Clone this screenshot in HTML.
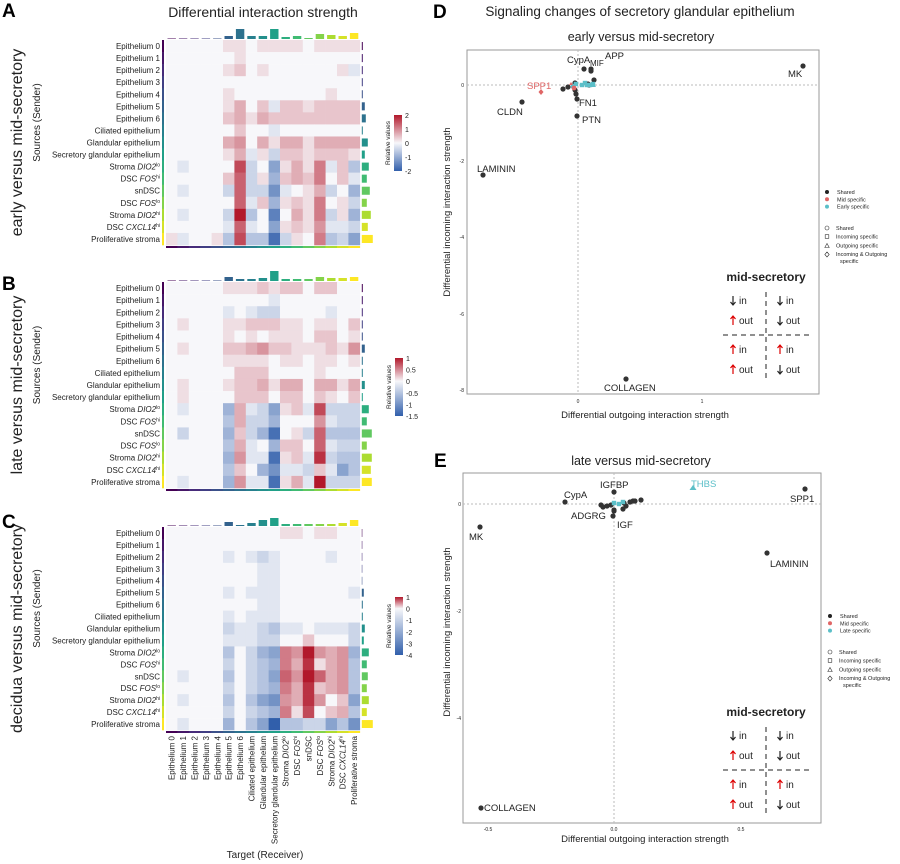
<!DOCTYPE html>
<html><head><meta charset="utf-8"><style>
html,body{margin:0;padding:0;background:#fff}
svg{display:block;font-family:"Liberation Sans",Arial,sans-serif}
</style></head><body>
<svg id="s" width="900" height="864" viewBox="0 0 900 864" xmlns="http://www.w3.org/2000/svg"></svg>
<script>
const S=document.getElementById('s');let h='';
const vir=['#440154','#482878','#3e4989','#31688e','#26828e','#1f9e89','#35b779','#6ece58','#b5de2b','#fde725'];
function hex(c){return [parseInt(c.substr(1,2),16),parseInt(c.substr(3,2),16),parseInt(c.substr(5,2),16)]}
function virC(t){let p=t*9,i=Math.min(8,Math.floor(p)),f=p-i;let a=hex(vir[i]),b=hex(vir[i+1]);return `rgb(${a.map((v,k)=>Math.round(v+(b[k]-v)*f)).join(',')})`}
function heat(v){let t=Math.min(1,Math.abs(v)/9);let c=v>=0?[178,24,43]:[49,95,171];let w=[247,247,250];return `rgb(${w.map((x,k)=>Math.round(x+(c[k]-x)*t)).join(',')})`}
const rows=[['Epithelium 0'],['Epithelium 1'],['Epithelium 2'],['Epithelium 3'],['Epithelium 4'],['Epithelium 5'],['Epithelium 6'],['Ciliated epithelium'],['Glandular epithelium'],['Secretory glandular epithelium'],['Stroma ','DIO2','lo'],['DSC ','FOS','hi'],['snDSC'],['DSC ','FOS','lo'],['Stroma ','DIO2','hi'],['DSC ','CXCL14','hi'],['Proliferative stroma']];
function lab(r){if(r.length==1)return r[0];return `${r[0]}<tspan font-style="italic">${r[1]}</tspan><tspan font-size="5" dy="-3">${r[2]}</tspan>`}
const A=[[0,0,0,0,0,1,1,0,1,1,1,1,0,1,1,1,1],[0,0,0,0,0,0,1,0,0,0,0,0,0,0,0,0,0],[0,0,0,0,0,1,2,0,1,0,0,0,0,0,0,1,-1],[0,0,0,0,0,0,0,0,0,0,0,0,0,0,0,0,0],[0,0,0,0,0,1,0,0,0,0,0,0,0,0,1,0,0],[0,0,0,0,0,1,3,0,2,-1,2,2,1,2,2,2,2],[0,0,0,0,0,2,3,1,3,2,2,2,2,2,2,2,2],[0,0,0,0,0,0,2,0,0,-1,0,0,0,0,0,0,0],[0,0,0,0,0,3,4,0,3,1,3,3,1,3,3,3,3],[0,0,0,0,0,1,3,-1,1,-2,2,2,1,2,2,2,1],[0,-1,0,0,0,0,7,-2,0,-5,1,3,1,5,-1,2,-3],[0,0,0,0,0,2,6,-2,1,-4,2,3,2,5,0,2,-1],[0,-1,0,0,0,-2,6,-2,-2,-6,-1,0,1,3,-2,0,-4],[0,0,0,0,0,0,6,-1,2,-4,1,2,1,5,0,1,-2],[0,-1,0,0,0,-2,9,-3,0,-7,0,3,1,5,-2,1,-4],[0,0,0,0,0,-1,6,-1,0,-5,1,2,1,4,-1,-1,-2],[1,-1,0,0,1,-3,7,-3,-3,-8,-2,1,0,5,-3,-2,-5]];
const B=[[0,0,0,0,0,1,1,1,2,1,2,2,0,2,2,0,0],[0,0,0,0,0,0,0,0,0,-1,0,0,0,0,0,0,0],[0,0,0,0,0,-1,0,-1,-2,-2,0,0,0,0,-1,0,0],[0,1,0,0,0,1,1,2,2,2,1,1,0,1,1,0,2],[0,0,0,0,0,1,0,1,0,1,1,1,0,2,2,0,1],[0,1,0,0,0,2,2,3,4,2,2,1,1,1,2,1,4],[0,0,0,0,0,1,1,1,1,0,1,1,0,1,1,0,1],[0,0,0,0,0,0,2,2,2,0,0,0,0,1,0,0,0],[0,1,0,0,0,1,2,2,3,1,3,3,0,3,3,1,3],[0,1,0,0,0,0,2,2,2,0,2,2,0,2,1,0,2],[0,-1,0,0,0,-4,3,-1,-2,-5,1,2,-1,7,-2,-2,-2],[0,0,0,0,0,-3,3,-2,-2,-4,0,0,0,4,-1,-2,-2],[0,-2,0,0,0,-4,2,-2,-4,-8,0,1,-2,6,-3,-3,-3],[0,0,0,0,0,-3,3,-1,0,-4,2,2,0,6,-1,-2,-2],[0,0,0,0,0,-4,4,-1,-1,-8,1,2,-1,8,-2,-3,-3],[0,0,0,0,0,-3,2,0,-4,-6,-1,-1,-2,2,-1,-5,-3],[0,-1,0,0,0,-4,4,-1,-1,-8,1,3,-1,9,-2,-2,-2]];
const C=[[0,0,0,0,0,0,0,0,0,0,1,1,0,1,1,0,0],[0,0,0,0,0,0,0,0,0,0,0,0,0,0,0,0,0],[0,0,0,0,0,-1,0,-1,-2,-1,0,0,0,0,-1,0,0],[0,0,0,0,0,0,0,0,-1,-1,0,0,0,0,0,0,0],[0,0,0,0,0,0,0,0,-1,-1,0,0,0,0,0,0,0],[0,0,0,0,0,-1,0,-1,-1,-1,0,0,0,0,0,0,-1],[0,0,0,0,0,0,0,0,-1,-1,0,0,0,0,0,0,0],[0,0,0,0,0,-1,0,-1,-1,-1,0,0,0,0,0,0,0],[0,0,0,0,0,-2,-1,-1,-2,-3,-1,-1,0,-1,-1,-1,-2],[0,0,0,0,0,-1,-1,-1,-2,-2,0,0,2,0,0,0,-2],[0,0,0,0,0,-3,0,-2,-4,-5,5,4,9,4,3,4,-4],[0,0,0,0,0,-2,0,-2,-3,-4,5,3,8,1,3,4,-3],[0,-1,0,0,0,-3,0,-2,-3,-5,6,4,9,6,3,4,-3],[0,0,0,0,0,-2,0,-2,-3,-4,5,3,8,2,3,4,-3],[0,-1,0,0,0,-3,0,-3,-5,-6,4,3,8,4,0,2,-5],[0,0,0,0,0,-2,0,-2,-3,-4,5,1,7,0,2,3,-3],[0,-1,0,0,0,-4,0,-3,-5,-9,-3,-3,-2,-2,-5,-3,-6]];
const topA=[.5,.5,.5,.5,.5,3,10,3,3,10,2,3,1,5,4,3,6],rA=[1,1,1,1,1,3,4,1,6,3,7,5,8,5,9,6,11];
const topB=[.5,.5,.5,.5,.5,4,2,2,3,10,2,2,2,4,3,3,4],rB=[1,1,1,1,1,3,1,1,3,1,7,5,10,5,10,9,10];
const topC=[.5,.5,.5,.5,.5,4,1,3,6,8,2,2,2,2,2,3,6],rC=[0.5,0.5,0.5,0.5,0.5,2,1,1,3,2,7,5,6,5,7,5,11];
const x0=166,cw=11.4;
function panel(M,y0,y1,top,rb,title,cb,cbLabels){
 const rh=(y1-y0)/17;
 for(let r=0;r<17;r++)for(let c=0;c<17;c++)h+=`<rect x="${x0+c*cw}" y="${y0+r*rh}" width="${cw+.3}" height="${rh+.3}" fill="${heat(M[r][c])}"/>`;
 for(let c=0;c<17;c++){let t=top[c];h+=`<rect x="${x0+c*cw+1.5}" y="${y0-1-t}" width="${cw-3}" height="${t}" fill="${virC(c/16)}"/>`}
 for(let r=0;r<17;r++){let t=rb[r];h+=`<rect x="${x0+17*cw+2}" y="${y0+r*rh+2}" width="${t}" height="${rh-4}" fill="${virC(r/16)}"/>`;
  h+=`<rect x="162" y="${y0+r*rh}" width="2" height="${rh+.3}" fill="${virC(r/16)}"/>`;
  h+=`<rect x="${x0+r*cw}" y="${y1+1}" width="${cw+.3}" height="2" fill="${virC(r/16)}"/>`;
  h+=`<text x="160" y="${y0+r*rh+rh/2+3}" font-size="8" text-anchor="end" fill="#222">${lab(rows[r])}</text>`}
 h+=`<text x="22" y="${(y0+y1)/2}" font-size="16" text-anchor="middle" transform="rotate(-90 22 ${(y0+y1)/2})" fill="#222">${title}</text>`;
 h+=`<text x="40" y="${(y0+y1)/2-20}" font-size="10" text-anchor="middle" transform="rotate(-90 40 ${(y0+y1)/2-20})" fill="#222">Sources (Sender)</text>`;
 const [cx,cy0,cy1,neg]=cb;
 h+=`<defs><linearGradient id="g${y0}" x1="0" y1="0" x2="0" y2="1"><stop offset="0" stop-color="#b2182b"/><stop offset="${neg}" stop-color="#f7f7fa"/><stop offset="1" stop-color="#315fab"/></linearGradient></defs><rect x="${cx}" y="${cy0}" width="8" height="${cy1-cy0}" fill="url(#g${y0})"/>`;
 cbLabels.forEach((l,i)=>{h+=`<text x="${cx+11}" y="${cy0+3+i*(cy1-cy0)/(cbLabels.length-1)}" font-size="7" fill="#222">${l}</text>`});
 h+=`<text x="${cx-4}" y="${(cy0+cy1)/2}" font-size="6.5" text-anchor="middle" transform="rotate(-90 ${cx-4} ${(cy0+cy1)/2})" fill="#222">Relative values</text>`;
}
h+=`<text x="2" y="17" font-size="19" font-weight="bold">A</text><text x="2" y="290" font-size="19" font-weight="bold">B</text><text x="2" y="528" font-size="19" font-weight="bold">C</text>`;
h+=`<text x="263" y="17" font-size="14" text-anchor="middle" fill="#222">Differential interaction strength</text>`;
panel(A,40,245,topA,rA,'early versus mid-secretory',[394,115,171,.5],['2','1','0','-1','-2']);
panel(B,282,488,topB,rB,'late versus mid-secretory',[395,358,416,.4],['1','0.5','0','-0.5','-1','-1.5']);
panel(C,527,730,topC,rC,'decidua versus mid-secretory',[395,597,655,.2],['1','0','-1','-2','-3','-4']);
const cn=['Epithelium 0','Epithelium 1','Epithelium 2','Epithelium 3','Epithelium 4','Epithelium 5','Epithelium 6','Ciliated epithelium','Glandular epithelium','Secretory glandular epithelium',['Stroma ','DIO2','lo'],['DSC ','FOS','hi'],'snDSC',['DSC ','FOS','lo'],['Stroma ','DIO2','hi'],['DSC ','CXCL14','hi'],'Proliferative stroma'];
cn.forEach((n,c)=>{let x=x0+c*cw+cw/2+3;let t=Array.isArray(n)?lab(n):n;h+=`<text x="${x}" y="736" font-size="8" text-anchor="end" transform="rotate(-90 ${x} 736)" fill="#222">${t}</text>`});
h+=`<text x="265" y="858" font-size="10" text-anchor="middle" fill="#222">Target (Receiver)</text>`;

function dot(x,y,c){h+=`<circle cx="${x}" cy="${y}" r="2.6" fill="${c||'#333'}"/>`}
function t(x,y,s,o){o=o||{};h+=`<text x="${x}" y="${y}" font-size="${o.fs||9.5}" fill="${o.c||'#222'}" text-anchor="${o.a||'start'}">${s}</text>`}
function inset(y){
 h+=`<text x="766" y="${y}" font-size="12" font-weight="bold" text-anchor="middle" fill="#222">mid-secretory</text>`;
 const dn=(x,yy)=>`<path d="M${x} ${yy-9}V${yy}M${x-2.5} ${yy-3}L${x} ${yy}L${x+2.5} ${yy-3}" stroke="#222" fill="none" stroke-width="1.2"/>`;
 const up=(x,yy)=>`<path d="M${x} ${yy}V${yy-9}M${x-2.5} ${yy-6}L${x} ${yy-9}L${x+2.5} ${yy-6}" stroke="#d00" fill="none" stroke-width="1.2"/>`;
 const rowsI=[[dn,'in',dn,'in'],[up,'out',dn,'out'],[up,'in',up,'in'],[up,'out',dn,'out']];
 const ys=[y+23,y+43,y+72,y+92];
 rowsI.forEach((r,i)=>{h+=r[0](733,ys[i]+1)+r[2](780,ys[i]+1);t(739,ys[i],r[1],{fs:10});t(786,ys[i],r[3],{fs:10})});
 h+=`<line x1="723" y1="${y+54}" x2="810" y2="${y+54}" stroke="#222" stroke-dasharray="5,4"/><line x1="766" y1="${y+11}" x2="766" y2="${y+97}" stroke="#222" stroke-dasharray="5,4"/>`;
}
function legend(x,y,third){
 const L=[['#222','Shared'],['#e06666','Mid specific'],['#5bbfc8',third]];
 L.forEach((l,i)=>{h+=`<circle cx="${x}" cy="${y+i*7.3}" r="2" fill="${l[0]}"/>`;t(x+10,y+2+i*7.3,l[1],{fs:5.5})});
 let y2=y+36;
 h+=`<circle cx="${x}" cy="${y2}" r="2" fill="none" stroke="#333" stroke-width=".6"/><rect x="${x-1.8}" y="${y2+6.7}" width="3.6" height="3.6" fill="none" stroke="#333" stroke-width=".6"/><path d="M${x-2.2} ${y2+19.5}L${x} ${y2+15.5}L${x+2.2} ${y2+19.5}Z" fill="none" stroke="#333" stroke-width=".6"/><path d="M${x} ${y2+24}L${x+2.2} ${y2+26.5}L${x} ${y2+29}L${x-2.2} ${y2+26.5}Z" fill="none" stroke="#333" stroke-width=".6"/>`;
 ['Shared','Incoming specific','Outgoing specific','Incoming &amp; Outgoing'].forEach((s,i)=>t(x+9,y2+2+i*8.7,s,{fs:5.5}));t(x+13,y2+35,'specific',{fs:5.5});
}
h+=`<text x="433" y="18" font-size="19" font-weight="bold">D</text>`;
t(640,16,'Signaling changes of secretory glandular epithelium',{fs:13.5,a:'middle'});
t(641,41,'early versus mid-secretory',{fs:12.5,a:'middle'});
h+=`<rect x="467" y="50" width="352" height="344" fill="none" stroke="#999" stroke-width="1"/>`;
h+=`<line x1="467" y1="85" x2="819" y2="85" stroke="#bbb" stroke-dasharray="2,2"/><line x1="578" y1="50" x2="578" y2="394" stroke="#bbb" stroke-dasharray="2,2"/>`;
[[0,85],[-2,161],[-4,237],[-6,314],[-8,390]].forEach(a=>t(464,a[1]+2,a[0],{fs:5,a:'end'}));
[[0,578],[1,702]].forEach(a=>t(a[1],403,a[0],{fs:5,a:'middle'}));
t(645,418,'Differential outgoing interaction strength',{fs:9.5,a:'middle'});
h+=`<text x="450" y="212" font-size="9.5" text-anchor="middle" transform="rotate(-90 450 212)" fill="#222">Differential incoming interaction strength</text>`;
[[803,66],[584,69],[591,69],[591,71],[594,80],[522,102],[483,175],[577,116],[626,379],[577,99],[563,89],[568,87],[575,83],[575,90],[576,94],[589,85],[588,84]].forEach(p=>dot(...p));
[[573,86],[576,84],[582,85],[585,83],[587,85],[590,85],[593,84]].forEach(p=>h+=`<rect x="${p[0]-2.2}" y="${p[1]-2.2}" width="4.4" height="4.4" fill="#5bbfc8"/>`);
h+=`<path d="M571 82l2 3h-4z" fill="#e06666"/><path d="M541 89l2.5 3-2.5 3-2.5-3z" fill="#e06666"/><circle cx="574" cy="88" r="2.4" fill="#e06666"/><path d="M593 82l3 5h-6z" fill="#5bbfc8"/>`;
t(567,63,'CypA');t(590,66,'MIF',{fs:8});t(605,59,'APP');t(788,77,'MK');t(527,89,'SPP1',{c:'#e06666'});t(497,115,'CLDN');t(477,172,'LAMININ');t(579,106,'FN1');t(582,123,'PTN');t(604,391,'COLLAGEN');
legend(827,192,'Early specific');
inset(281);
h+=`<text x="434" y="467" font-size="19" font-weight="bold">E</text>`;
t(641,465,'late versus mid-secretory',{fs:12.5,a:'middle'});
h+=`<rect x="463" y="473" width="358" height="350" fill="none" stroke="#999" stroke-width="1"/>`;
h+=`<line x1="463" y1="504" x2="821" y2="504" stroke="#bbb" stroke-dasharray="2,2"/><line x1="614" y1="473" x2="614" y2="823" stroke="#bbb" stroke-dasharray="2,2"/>`;
[[0,504],[-2,611],[-4,718]].forEach(a=>t(461,a[1]+2,a[0],{fs:5,a:'end'}));
[['-0.5',488],['0.0',614],['0.5',741]].forEach(a=>t(a[1],831,a[0],{fs:5,a:'middle'}));
t(645,842,'Differential outgoing interaction strength',{fs:9.5,a:'middle'});
h+=`<text x="450" y="632" font-size="9.5" text-anchor="middle" transform="rotate(-90 450 632)" fill="#222">Differential incoming interaction strength</text>`;
[[614,492],[565,502],[805,489],[480,527],[767,553],[481,808],[613,516],[614,511],[601,505],[603,507],[607,506],[611,505],[624,503],[626,506],[630,502],[633,501],[635,501],[641,500],[623,509],[614,510]].forEach(p=>dot(...p));
[[614,503],[619,504],[623,502]].forEach(p=>h+=`<rect x="${p[0]-2.2}" y="${p[1]-2.2}" width="4.4" height="4.4" fill="#5bbfc8"/>`);
h+=`<path d="M693 485l3.5 5h-7z" fill="#5bbfc8"/>`;
t(600,488,'IGFBP');t(564,498,'CypA');t(691,487,'THBS',{c:'#5bbfc8'});t(790,502,'SPP1');t(469,540,'MK');t(770,567,'LAMININ');t(484,811,'COLLAGEN');t(571,519,'ADGRG');t(617,528,'IGF');
legend(830,616,'Late specific');
inset(716);
S.innerHTML=h;
</script>
</body></html>
